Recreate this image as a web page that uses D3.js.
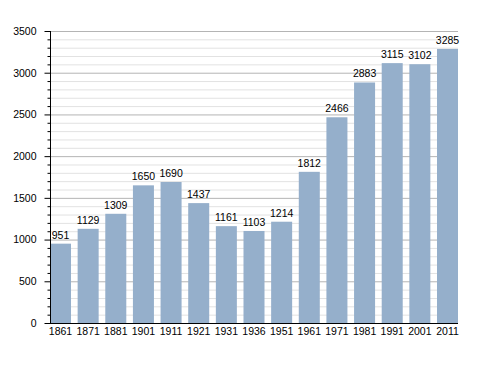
<!DOCTYPE html>
<html><head><meta charset="utf-8">
<script src="https://cdn.jsdelivr.net/npm/d3@7"></script>
<style>body{margin:0;background:#fff}svg{display:block}text{font-family:"Liberation Sans",Arial,sans-serif}</style>
</head><body>
<svg id="c" width="488" height="373"></svg>
<script>
const years = ["1861","1871","1881","1901","1911","1921","1931","1936","1951","1961","1971","1981","1991","2001","2011"];
const population = [951,1129,1309,1650,1690,1437,1161,1103,1214,1812,2466,2883,3115,3102,3285];
const yTicks = [0,500,1000,1500,2000,2500,3000,3500];

const svg = d3.select("#c");
const L = 50, R = 458, T = 31, B = 323;
const FS = 10.5;
const x = d3.scaleBand().domain(years).range([L, R]).paddingInner(0.24).paddingOuter(0);
const y = d3.scaleLinear().domain([0, 3500]).range([B, T]);
const minor = d3.range(0, 3501, 100).filter(v => v % 500 !== 0);

svg.append("g").selectAll("line").data(minor).join("line")
  .attr("x1", L).attr("x2", R).attr("y1", d => y(d) + 0.5).attr("y2", d => y(d) + 0.5)
  .attr("stroke", "#e2e2e2").attr("stroke-width", 1);
svg.append("g").selectAll("line").data(yTicks.slice(1)).join("line")
  .attr("x1", L).attr("x2", R).attr("y1", d => y(d) + 0.5).attr("y2", d => y(d) + 0.5)
  .attr("stroke", "#b4b4b4").attr("stroke-width", 1);

svg.append("g").selectAll("rect").data(years).join("rect")
  .attr("x", d => x(d)).attr("width", x.bandwidth())
  .attr("y", (d, i) => y(population[i])).attr("height", (d, i) => B - y(population[i]))
  .attr("fill", "#95afcb");

svg.append("g").selectAll("text").data(years).join("text")
  .attr("x", d => x(d) + x.bandwidth() / 2)
  .attr("y", (d, i) => y(population[i]) - 5)
  .attr("text-anchor", "middle").attr("font-size", FS).attr("fill", "#000")
  .text((d, i) => population[i]);

const ya = svg.append("g").attr("transform", `translate(${L + 0.5},0)`)
  .call(d3.axisLeft(y).tickValues(yTicks).tickSize(6).tickPadding(8).tickFormat(d3.format("d")));
ya.select(".domain").attr("d", `M0,${T}V${B}`).attr("stroke", "#000");
ya.selectAll("text").attr("font-size", FS).attr("font-family", '"Liberation Sans",Arial,sans-serif').attr("fill", "#000");
ya.selectAll(".tick line").attr("stroke", "#000");
svg.append("g").attr("transform", `translate(${L + 0.5},0)`).call(d3.axisLeft(y).tickValues(minor).tickSize(3).tickFormat(""))
  .call(g => g.select(".domain").remove()).selectAll("line").attr("stroke", "#000");

const xa = svg.append("g").attr("transform", `translate(0,${B + 0.5})`)
  .call(d3.axisBottom(x).tickSize(0).tickPadding(4));
xa.select(".domain").attr("d", `M${L - 5},0H${R}`).attr("stroke", "#000");
xa.selectAll("text").attr("font-size", FS).attr("font-family", '"Liberation Sans",Arial,sans-serif').attr("fill", "#000");
</script>
</body></html>
